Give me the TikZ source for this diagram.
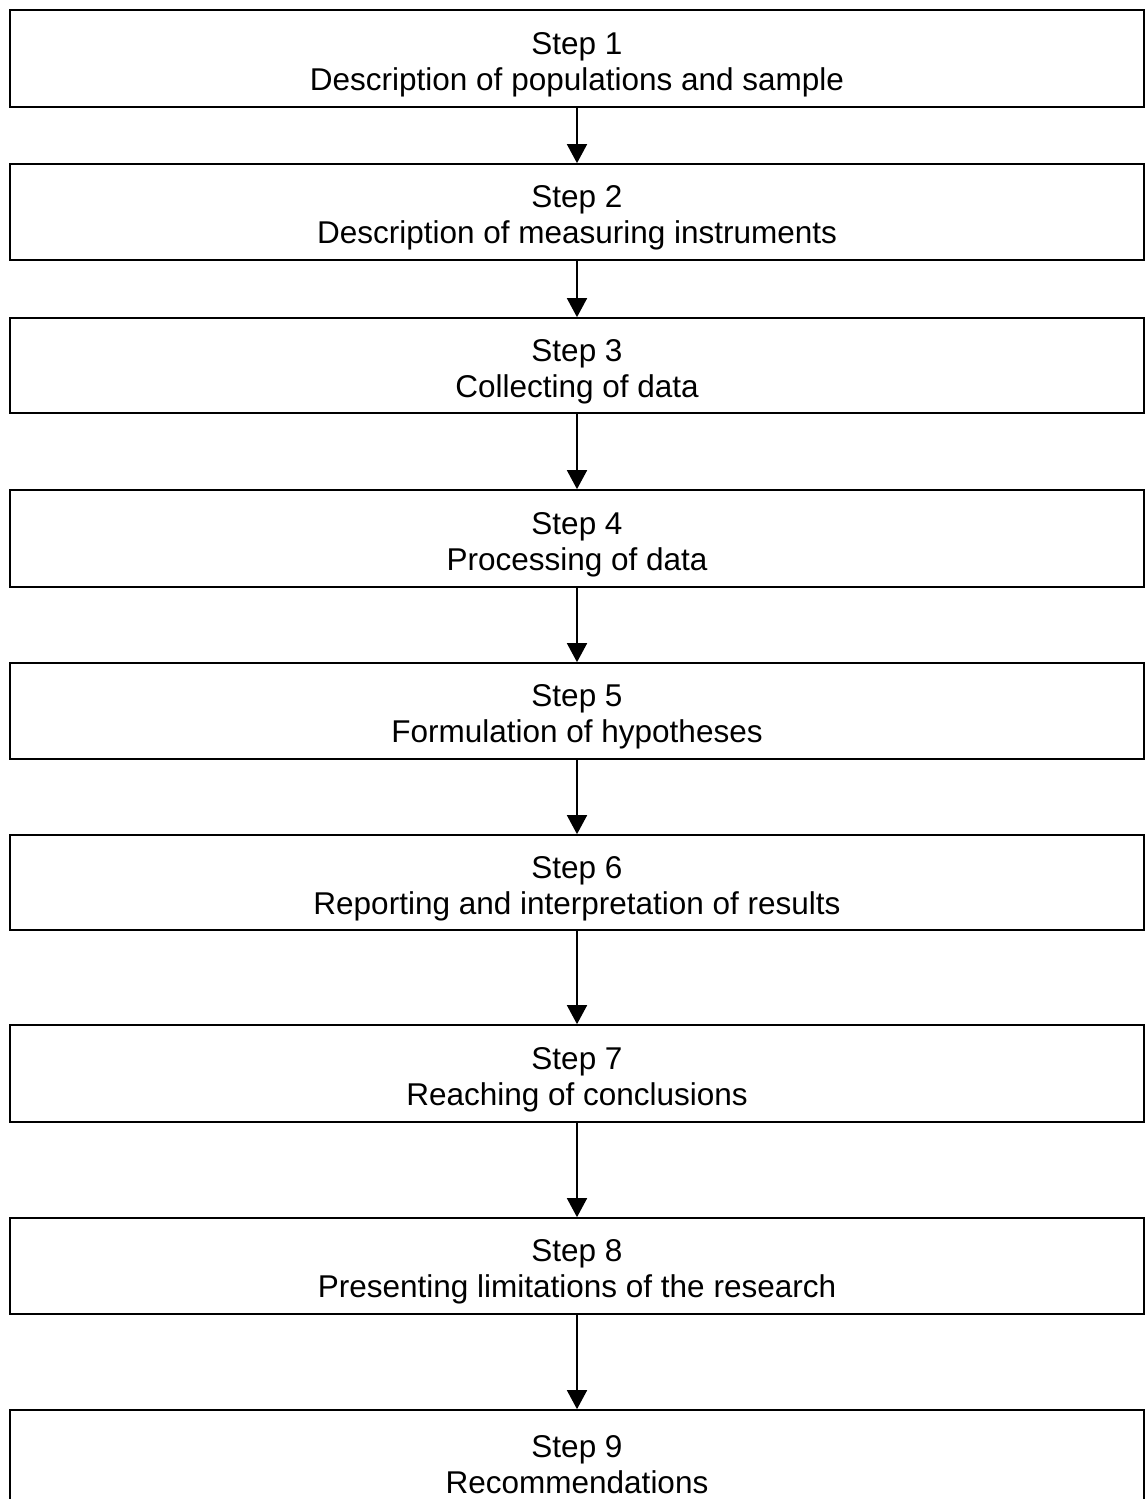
\documentclass[tikz,border=0pt]{standalone}
\usepackage{fontspec}
\setmainfont{Liberation Sans}
\usetikzlibrary{arrows.meta}
% extra room above the first line pushes the text block a little lower
\newcommand\topstrut{\rule{0pt}{34pt}}
\begin{document}
\begin{tikzpicture}[x=1pt,y=-1pt,
  stepbox/.style={draw, line width=1.7pt, rectangle, minimum width=1134pt,
    align=center, inner sep=0pt,
    font=\fontsize{31.5pt}{36pt}\selectfont},
  flow/.style={draw, line width=1.7pt, -{Triangle[width=20pt,length=19pt]}}]
\useasboundingbox (0,0) rectangle (1146,1499);
% process steps, top to bottom
\node[stepbox, minimum height=97pt] (s1) at (577,58.5) {\topstrut Step 1\\Description of populations and sample};
\node[stepbox, minimum height=96pt] (s2) at (577,212) {\topstrut Step 2\\Description of measuring instruments};
\node[stepbox, minimum height=95pt] (s3) at (577,365.5) {\topstrut Step 3\\Collecting of data};
\node[stepbox, minimum height=97pt] (s4) at (577,538.5) {\topstrut Step 4\\Processing of data};
\node[stepbox, minimum height=96pt] (s5) at (577,711) {\topstrut Step 5\\Formulation of hypotheses};
\node[stepbox, minimum height=95pt] (s6) at (577,882.5) {\topstrut Step 6\\Reporting and interpretation of results};
\node[stepbox, minimum height=97pt] (s7) at (577,1073.5) {\topstrut Step 7\\Reaching of conclusions};
\node[stepbox, minimum height=96pt] (s8) at (577,1266) {\topstrut Step 8\\Presenting limitations of the research};
\node[stepbox, minimum height=97pt] (s9) at (577,1458.5) {\topstrut Step 9\\Recommendations};
% connectors
\foreach \a/\b in {s1/s2,s2/s3,s3/s4,s4/s5,s5/s6,s6/s7,s7/s8,s8/s9}
  \draw[flow] (\a.south) -- (\b.north);
\end{tikzpicture}
\end{document}
